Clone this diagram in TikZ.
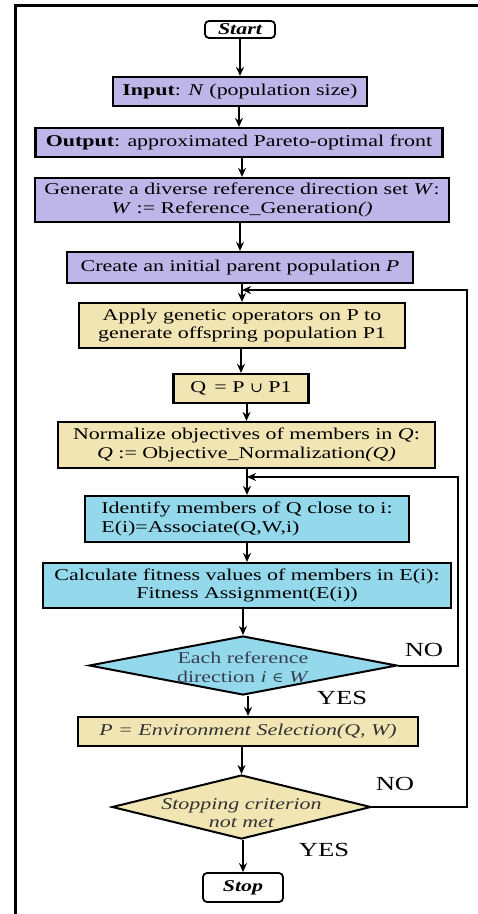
\documentclass[tikz,border=0pt]{standalone}
\usepackage{fontspec}
\setmainfont{Liberation Serif}[FakeStretch=1.33]
\newfontfamily\symfont{DejaVu Serif}[FakeStretch=1.1]
\usetikzlibrary{shapes.geometric,arrows.meta}
\definecolor{purp}{RGB}{190,182,232}
\definecolor{tanf}{RGB}{242,229,180}
\definecolor{skyb}{RGB}{148,216,236}
\definecolor{dtext}{RGB}{55,65,80}
\begin{document}
\begin{tikzpicture}[x=1pt,y=-1pt,
  box/.style={draw=black,line width=2.2pt,rectangle,inner sep=1pt,align=center,
    font=\fontsize{16.5}{18.3}\selectfont},
  pbox/.style={box,fill=purp},
  tbox/.style={box,fill=tanf},
  bbox/.style={box,fill=skyb},
  term/.style={draw=black,line width=1.8pt,rounded corners=4pt,fill=white,inner sep=0pt,
    font=\fontsize{16.5}{18}\selectfont\bfseries\itshape},
  dia/.style={shape=diamond,draw=black,line width=2pt,inner sep=0pt},
  dtxt/.style={align=center,inner sep=0pt,font=\fontsize{16.5}{19}\selectfont},
  lbl/.style={inner sep=0pt,font=\fontsize{20}{22}\selectfont},
  arr/.style={line width=2pt,-{Stealth[length=9pt,width=8pt]}}]
\useasboundingbox (0,0) rectangle (478,914);
\draw[line width=3pt] (14,5) -- (478,5);
\draw[line width=3pt] (15,5) -- (15,914);

\node[term,minimum width=70pt,minimum height=17pt] (start) at (240,29.5) {Start};
\node[pbox,minimum width=254pt,minimum height=29pt] (input) at (240,91.5)
  {\textbf{Input}: \textit{N} (population size)};
\node[pbox,minimum width=407pt,minimum height=29pt] (output) at (239,142.5)
  {\textbf{Output}: approximated Pareto-optimal front};
\node[pbox,minimum width=414pt,minimum height=44pt] (gen) at (242,200)
  {Generate a diverse reference direction set \textit{W}:\\ \textit{W} := Reference\_Generation\textit{()}};
\node[pbox,minimum width=346pt,minimum height=31pt] (create) at (240,267.5)
  {Create an initial parent population \textit{P}};
\node[tbox,minimum width=326pt,minimum height=45pt] (apply) at (242,325.5)
  {Apply genetic operators on P to\\ generate offspring population P1};
\node[tbox,minimum width=135pt,minimum height=29pt] (qbox) at (241,388.5)
  {Q \,= P {\symfont\fontsize{14}{16}\selectfont ∪} P1};
\node[tbox,minimum width=377pt,minimum height=46pt] (norm) at (246.5,445)
  {Normalize objectives of members in \textit{Q}:\\ \textit{Q} := Objective\_Normalization\textit{(Q)}};
\node[bbox,minimum width=324pt,minimum height=46pt,align=left] (ident) at (247,519)
  {Identify members of Q close to i:\\ E(i)=Associate(Q,W,i)};
\node[bbox,minimum width=408pt,minimum height=45pt] (calc) at (247,585.5)
  {Calculate fitness values of members in E(i):\\ Fitness Assignment(E(i))};
\node[dia,fill=skyb,minimum width=308pt,minimum height=59pt] (d1) at (243,665.5) {};
\node[dtxt,text=dtext] (d1t) at (243,667)
  {Each reference\\ direction \textit{i} {\symfont\fontsize{14}{16}\selectfont ∈} \textit{W}};
\node[tbox,minimum width=340pt,minimum height=29pt,text=black!80] (env) at (248,731.5)
  {\textit{P = Environment Selection(Q, W)}};
\node[dia,fill=tanf,minimum width=259pt,minimum height=64pt] (d2) at (241.5,807) {};
\node[dtxt,text=black!80,font=\fontsize{16.5}{18.5}\selectfont\itshape] (d2t) at (241.5,813)
  {Stopping criterion\\ not met};
\node[term,minimum width=80pt,minimum height=29pt] (stop) at (243,887.5) {Stop};

\node[lbl] (no1) at (424,650) {NO};
\node[lbl] (yes1) at (342,698) {YES};
\node[lbl] (no2) at (395,784) {NO};
\node[lbl] (yes2) at (324,850) {YES};

\draw[arr] (input.north |- start.south) -- (input.north);
\draw[arr] (output.north |- input.south) -- (output.north);
\draw[arr] (gen.north |- output.south) -- (gen.north);
\draw[arr] (create.north |- gen.south) -- (create.north);
\draw[arr] (apply.north |- create.south) -- (apply.north);
\draw[arr] (qbox.north |- apply.south) -- (qbox.north);
\draw[arr] (norm.north |- qbox.south) -- (norm.north);
\draw[arr] (ident.north |- norm.south) -- (ident.north);
\draw[arr] (calc.north |- ident.south) -- (calc.north);
\draw[arr] (d1.north |- calc.south) -- (d1.north);
\draw[arr] (env.north |- d1.south) -- (env.north);
\draw[arr] (d2.north |- env.south) -- (d2.north);
\draw[arr] (stop.north |- d2.south) -- (stop.north);

\coordinate (r1) at (458,477);
\coordinate (j1) at (ident.north |- r1);
\draw[arr] (d1.east) -| (r1) -- (j1);
\coordinate (r2) at (467,290);
\coordinate (j2) at (apply.north |- r2);
\draw[arr] (d2.east) -| (r2) -- (j2);
\end{tikzpicture}
\end{document}
